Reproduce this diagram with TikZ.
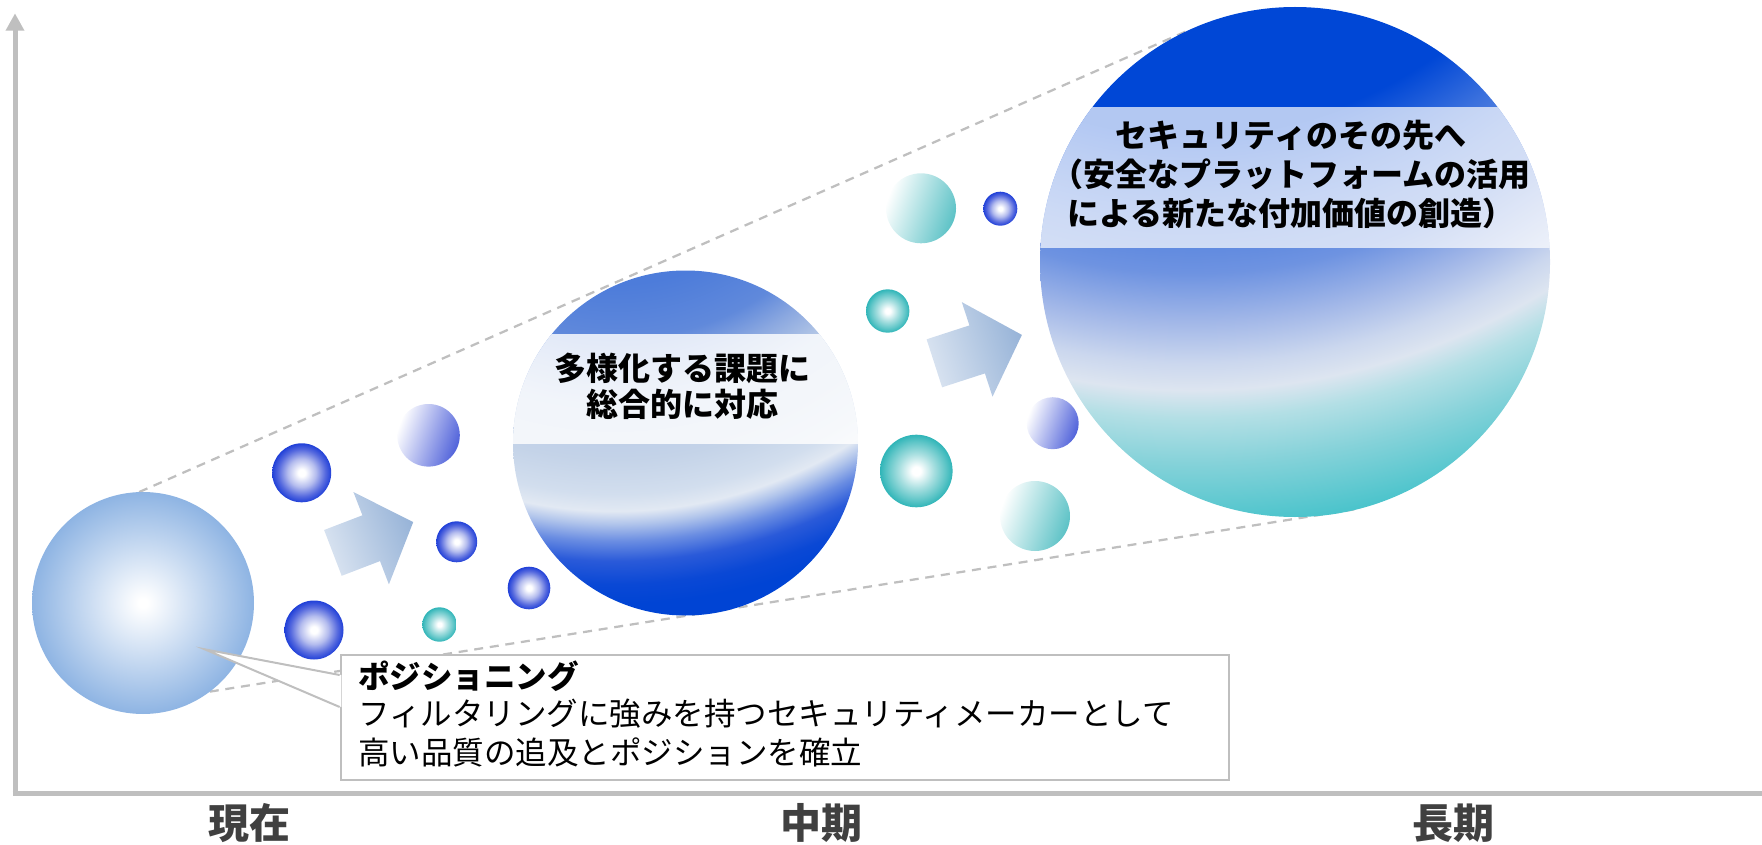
\documentclass[tikz,border=0pt]{standalone}
\usepackage{fontspec}
\setmainfont{Noto Sans CJK JP}
\usetikzlibrary{arrows.meta,calc,backgrounds}

% palette
\definecolor{axisgray}{HTML}{BFBFBF}
\definecolor{labelgray}{HTML}{404040}
\definecolor{baseedge}{HTML}{8EB4E3}
\definecolor{blueedge}{HTML}{2040D8}
\definecolor{bluedeep}{HTML}{5468DE}
\definecolor{bluemid}{HTML}{B4BCEE}
\definecolor{tealedge}{HTML}{30B5B8}
\definecolor{tealdeep}{HTML}{60C6C8}
\definecolor{tealmid}{HTML}{A8DFE0}
\definecolor{violetedge}{HTML}{5062DA}
\definecolor{paletealedge}{HTML}{5CC2C6}
\definecolor{arrowlight}{HTML}{DAE4F1}
\definecolor{arrowdark}{HTML}{98B4D8}
% middle globe stops
\definecolor{mgA}{HTML}{3F72D8}
\definecolor{mgB}{HTML}{4D7CDA}
\definecolor{mgC}{HTML}{6089DB}
\definecolor{mgD}{HTML}{8BA8E0}
\definecolor{mgE}{HTML}{B5C8E6}
\definecolor{mgF}{HTML}{C4D3E8}
\definecolor{mgG}{HTML}{D2DEEE}
\definecolor{mgH}{HTML}{E2E9F3}
\definecolor{mgI}{HTML}{B0C4EB}
\definecolor{mgJ}{HTML}{6A8DE2}
\definecolor{mgK}{HTML}{2A5AD9}
\definecolor{mgL}{HTML}{0A48D5}
\definecolor{mgM}{HTML}{0044D4}
% large globe stops
\definecolor{lgA}{HTML}{0047D6}
\definecolor{lgB}{HTML}{3A70DD}
\definecolor{lgC}{HTML}{5A86DF}
\definecolor{lgD}{HTML}{6E93E1}
\definecolor{lgE}{HTML}{A3B8E8}
\definecolor{lgF}{HTML}{CBD7EE}
\definecolor{lgG}{HTML}{DDE5F0}
\definecolor{lgH}{HTML}{B3DFE5}
\definecolor{lgI}{HTML}{85D2D9}
\definecolor{lgJ}{HTML}{48C3CB}

% sphere shadings (25bp = rim of the shaded circle)
\pgfdeclareradialshading{sh-base}{\pgfpoint{0bp}{0bp}}{color(0bp)=(white); color(1bp)=(white); color(25bp)=(baseedge); color(50bp)=(baseedge)}
\pgfdeclareradialshading{sh-blue}{\pgfpoint{0bp}{0bp}}{color(0bp)=(white); color(3bp)=(white); color(12bp)=(bluemid); color(20bp)=(bluedeep); color(25bp)=(blueedge); color(50bp)=(blueedge)}
\pgfdeclareradialshading{sh-teal}{\pgfpoint{0bp}{0bp}}{color(0bp)=(white); color(3bp)=(white); color(12bp)=(tealmid); color(20bp)=(tealdeep); color(25bp)=(tealedge); color(50bp)=(tealedge)}
\pgfdeclarehorizontalshading{sh-violet}{100bp}{color(0bp)=(white); color(25bp)=(white); color(75bp)=(violetedge); color(100bp)=(violetedge)}
\pgfdeclarehorizontalshading{sh-paleteal}{100bp}{color(0bp)=(white); color(25bp)=(white); color(75bp)=(paletealedge); color(100bp)=(paletealedge)}
\pgfdeclarehorizontalshading{sh-arrow}{100bp}{color(0bp)=(arrowlight); color(25bp)=(arrowlight); color(75bp)=(arrowdark); color(100bp)=(arrowdark)}
% globe shadings, centred off the globes (25bp = 560 / 830 units)
\pgfdeclareradialshading{sh-midglobe}{\pgfpoint{0bp}{0bp}}{color(0bp)=(mgA); color(9.6bp)=(mgB); color(12.05bp)=(mgC); color(13.39bp)=(mgD); color(14.95bp)=(mgE); color(17.41bp)=(mgF); color(18.97bp)=(mgG); color(19.73bp)=(mgH); color(20.31bp)=(mgI); color(21.07bp)=(mgJ); color(21.96bp)=(mgK); color(22.99bp)=(mgL); color(23.88bp)=(mgM); color(50bp)=(mgM)}
\pgfdeclareradialshading{sh-largeglobe}{\pgfpoint{0bp}{0bp}}{color(0bp)=(lgA); color(12.65bp)=(lgA); color(14.46bp)=(lgB); color(15.66bp)=(lgC); color(16.87bp)=(lgD); color(18.37bp)=(lgE); color(19.58bp)=(lgF); color(20.39bp)=(lgG); color(21.23bp)=(lgH); color(22.59bp)=(lgI); color(24.55bp)=(lgJ); color(50bp)=(lgJ)}

\begin{document}
\begin{tikzpicture}[x=1pt,y=-1pt,
  axis/.style={draw=axisgray, line width=5pt},
  guide/.style={draw=axisgray, line width=2.25pt, dash pattern=on 9pt off 6.75pt},
  ball/.style={circle, inner sep=0pt, outer sep=0pt, minimum size=#1, shade},
  blueball/.style={ball=#1, shading=sh-blue},
  tealball/.style={ball=#1, shading=sh-teal},
  violetball/.style={ball=#1, shading=sh-violet, shading angle=-20},
  paletealball/.style={ball=#1, shading=sh-paleteal, shading angle=-20},
  globe/.style={circle, inner sep=0pt, outer sep=0pt, minimum size=#1},
  blockarrow/.style={shading=sh-arrow},
  globetext/.style={font=\bfseries\fontsize{32}{38}\selectfont, text=black, inner sep=0pt, anchor=base},
  boxtext/.style={font=\fontsize{31.5}{38}\selectfont, text=black, inner sep=0pt, anchor=base west},
  axislabel/.style={font=\bfseries\fontsize{41}{48}\selectfont, text=labelgray, inner sep=0pt, anchor=base},
  calloutbox/.style={draw=axisgray, line width=2pt, fill=white, inner sep=0pt},
]
\useasboundingbox (0,0) rectangle (1762,845);

% axes
\coordinate (origin) at (15,795.5);
\coordinate (ytop) at (15,13.3);
\coordinate (xstart) at (12.5,793);
\coordinate (xend) at (1762,793);
\draw[axis] (xstart) -- (xend);
\draw[axis, -{Triangle[width=17.7pt,length=17.4pt]}] (origin) -- (ytop);

% present-day position
\node[ball=222pt, shading=sh-base] (base) at (143,603) {};

% small spheres
\node[blueball=59pt] (b1) at (301.7,472.8) {};
\node[blueball=59pt] (b2) at (314,630) {};
\node[blueball=41pt] (b3) at (456.7,541.8) {};
\node[blueball=42.6pt] (b4) at (529,588) {};
\node[blueball=34pt] (b5) at (1000.3,208.7) {};
\node[tealball=34.4pt] (t1) at (439.5,624.5) {};
\node[tealball=43.4pt] (t2) at (887.7,311) {};
\node[tealball=72.6pt] (t3) at (916.3,471) {};
\node[violetball=62.6pt] (v1) at (428.5,435.3) {};
\node[violetball=52pt] (v2) at (1052.7,423.2) {};
\node[paletealball=70pt] (p1) at (921,208.3) {};
\node[paletealball=70pt] (p2) at (1035,516) {};

% block arrows
\shade[blockarrow, shading angle=21] (324.1,530.0) -- (362.4,515.3) -- (353.4,492.0) -- (413.2,522.1) -- (388.9,584.4) -- (380.0,561.1) -- (341.7,575.8) -- cycle;
\shade[blockarrow, shading angle=18] (926.6,339.3) -- (969.4,325.4) -- (961.8,302.1) -- (1021.9,334.9) -- (992.5,396.7) -- (984.9,373.4) -- (942.1,387.3) -- cycle;

% mid-term globe
\node[globe=345pt] (mid) at (685.5,443) {};
\begin{scope}
  \clip (mid.center) circle[radius=172.5pt];
  \shade[shading=sh-midglobe] (55,-491) rectangle (1175,629);
  \fill[white, fill opacity=0.82] (500,334) rectangle (870,444);
\end{scope}
\node[globetext] (m1) at (682,380) {多様化する課題に};
\node[globetext] (m2) at (682,416) {総合的に対応};

% long-term globe
\node[globe=510pt] (big) at (1295,262) {};
\begin{scope}
  \clip (big.center) circle[radius=255pt];
  \shade[shading=sh-largeglobe] (362,-1117) rectangle (2022,543);
  \fill[white, fill opacity=0.7] (1030,106.7) rectangle (1560,248.3);
\end{scope}
\node[globetext] (g1) at (1291,148) {セキュリティのその先へ};
\node[globetext] (g2) at (1291,187) {（安全なプラットフォームの活用};
\node[globetext] (g3) at (1291,226) {による新たな付加価値の創造）};

% guide lines behind everything
\begin{scope}[on background layer]
  \draw[guide] (base.92) -- (big.115);
  \draw[guide] (base.-53) -- (big.-75);
\end{scope}

% callout
\node[calloutbox, minimum width=888.7pt, minimum height=125pt] (cbox) at (785,717.5) {};
\coordinate (ctip) at (204.7,649.3);
\coordinate (cup) at ($(cbox.west)+(0,-42.5)$);
\coordinate (clow) at ($(cbox.west)+(0,-10.5)$);
\fill[white] (ctip) -- ($(cup)+(1.6,0)$) -- ($(clow)+(1.6,0)$) -- cycle;
\draw[axisgray, line width=2pt, line join=miter] (cup) -- (ctip) -- (clow);
\node[boxtext, font=\bfseries\fontsize{31.5}{38}\selectfont] (c1) at (358,688.5) {ポジショニング};
\node[boxtext] (c2) at (358,725) {フィルタリングに強みを持つセキュリティメーカーとして};
\node[boxtext] (c3) at (358,764.3) {高い品質の追及とポジションを確立};

% time axis labels
\node[axislabel] (now) at (249.7,838.5) {現在};
\node[axislabel] (midterm) at (821.7,838.5) {中期};
\node[axislabel] (longterm) at (1453.3,838.5) {長期};
\end{tikzpicture}
\end{document}
